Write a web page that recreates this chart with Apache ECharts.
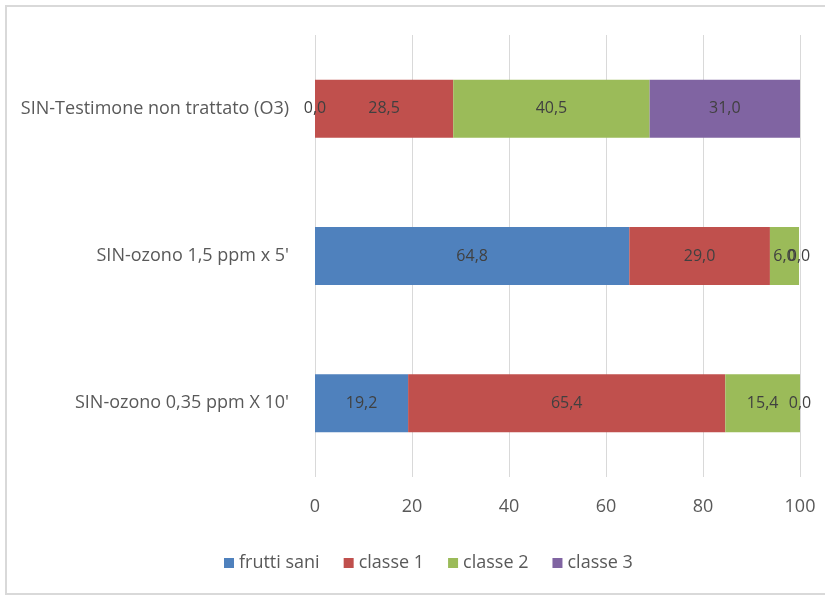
<!DOCTYPE html>
<html>
<head>
<meta charset="utf-8">
<script src="https://cdn.jsdelivr.net/npm/echarts@6/dist/echarts.min.js"></script>
<style>
  html, body { margin: 0; padding: 0; background: #fff; }
  #chart { width: 825px; height: 597px; }
</style>
</head>
<body>
<div id="chart"></div>
<script>
// categories, bottom to top (as drawn)
const categories = [
  "SIN-ozono 0,35 ppm X 10'",
  "SIN-ozono 1,5 ppm x 5'",
  "SIN-Testimone non trattato (O3)"
];
const seriesNames = ["frutti sani", "classe 1", "classe 2", "classe 3"];
const fruttiSani = [19.2, 64.8, 0.0];
const classe1 = [65.4, 29.0, 28.5];
const classe2 = [15.4, 6.0, 40.5];
const classe3 = [0.0, 0.0, 31.0];
const xTicks = [0, 20, 40, 60, 80, 100];

const colors = ["#4f81bd", "#c0504d", "#9bbb59", "#8064a2"];
const fontFamily = "'Open Sans', 'Noto Sans', sans-serif";

const fmt = (v) => v.toFixed(1).replace(".", ",");

const allData = [fruttiSani, classe1, classe2, classe3];

const series = allData.map((data, i) => ({
  name: seriesNames[i],
  type: "bar",
  stack: "total",
  barWidth: 58,
  data: data,
  itemStyle: { color: colors[i] },
  label: {
    show: true,
    position: "inside",
    color: "#404040",
    fontSize: 16,
    fontFamily: fontFamily,
    formatter: (p) => fmt(p.value)
  },
  emphasis: { disabled: true }
}));

let chart = echarts.init(document.getElementById("chart"));

chart.setOption({
  animation: false,
  color: colors,
  grid: { left: 315, right: 25, top: 35, bottom: 120, containLabel: false },
  xAxis: {
    type: "value",
    min: xTicks[0],
    max: xTicks[xTicks.length - 1],
    interval: 20,
    axisLine: { show: false },
    axisTick: { show: false },
    splitLine: { lineStyle: { color: "#d9d9d9", width: 1 } },
    axisLabel: { color: "#595959", fontSize: 18, fontFamily: fontFamily, margin: 21 }
  },
  yAxis: {
    type: "category",
    data: categories,
    axisLine: { show: false },
    axisTick: { show: false },
    axisLabel: { color: "#595959", fontSize: 18, fontFamily: fontFamily, margin: 26 }
  },
  legend: {
    data: seriesNames,
    bottom: 20,
    left: 219,
    itemWidth: 10,
    itemHeight: 10,
    itemGap: 24,
    icon: "rect",
    textStyle: { color: "#595959", fontSize: 18, fontFamily: fontFamily }
  },
  graphic: [{
    type: "rect",
    shape: { x: 6, y: 6, width: 830, height: 588 },
    style: { fill: "none", stroke: "#d9d9d9", lineWidth: 2 },
    silent: true
  }],
  series: series
}, true);

window.addEventListener("resize", () => {
  if (chart) {
    chart.resize();
  }
});
</script>
</body>
</html>
